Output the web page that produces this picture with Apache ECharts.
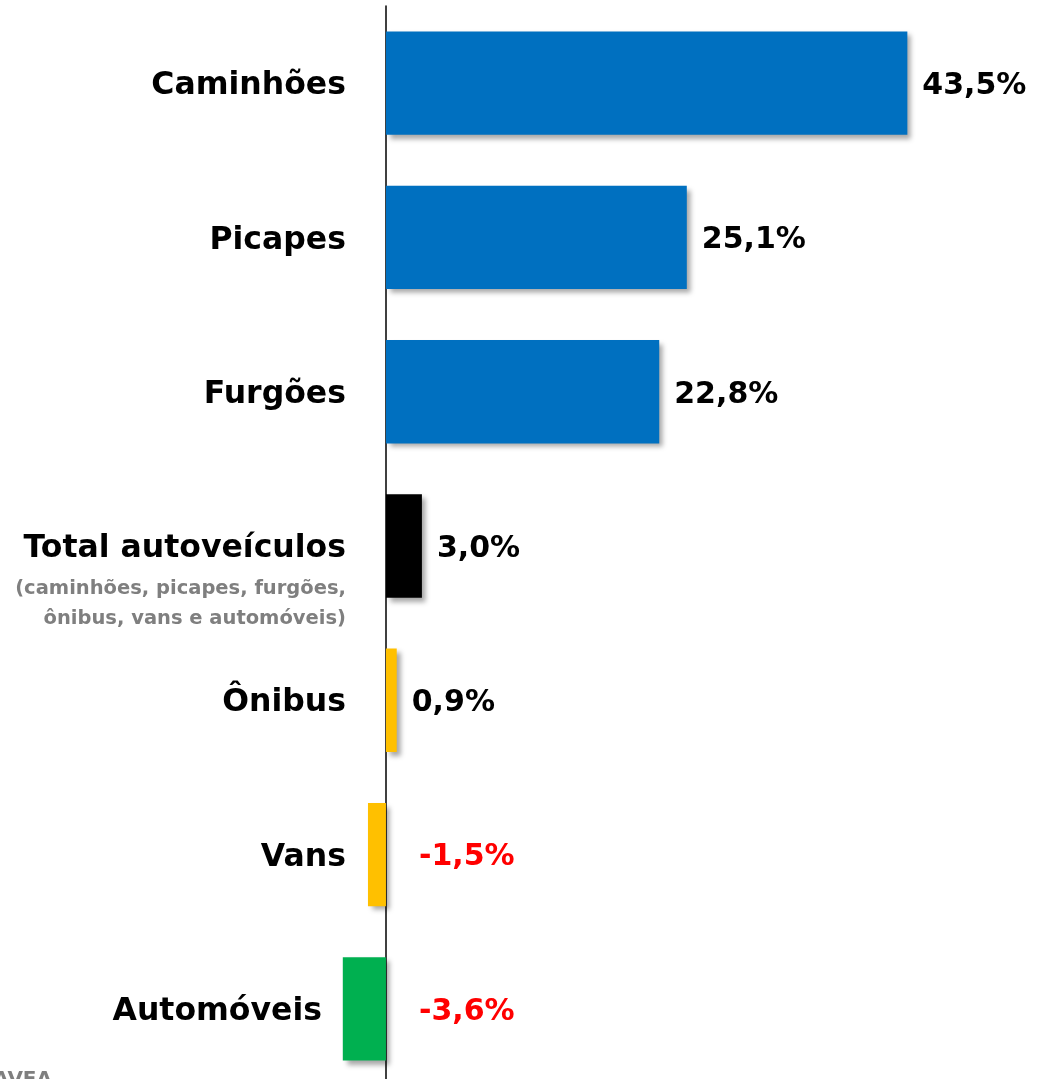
<!DOCTYPE html>
<html><head><meta charset="utf-8">
<script src="https://cdn.jsdelivr.net/npm/echarts@6/dist/echarts.min.js"></script>
<style>html,body{margin:0;padding:0;background:#fff}#c{width:1038px;height:1079px}</style>
</head><body><div id="c"></div>
<script>
const categories = ['Caminhões','Picapes','Furgões','Total autoveículos','Ônibus','Vans','Automóveis'];
const values = [43.5, 25.1, 22.8, 3.0, 0.9, -1.5, -3.6];
const barColors = ['#0070C0','#0070C0','#0070C0','#000000','#FFC000','#FFC000','#00B050'];
const totalNote = ['(caminhões, picapes, furgões,','ônibus, vans e automóveis)'];
const sourceText = 'Fonte: ANFAVEA';

const FONT = '"DejaVu Sans", sans-serif';
const chart = echarts.init(document.getElementById('c'), null, {renderer:'canvas'});
chart.setOption({
  animation:false,
  backgroundColor:'#fff',
  grid:{left:0,right:0,top:6,height:1080,containLabel:false,outerBoundsMode:'none'},
  xAxis:{type:'value',min:-32.2,max:54.4,show:false,splitLine:{show:false}},
  yAxis:{
    type:'category',data:categories,inverse:true,
    axisLine:{show:true,onZero:true,lineStyle:{color:'#000',width:1.5}},
    axisTick:{show:false},
    axisLabel:{show:false}
  },
  series:[{
    type:'bar',
    barCategoryGap:'33%',
    data:values.map(function(v,i){
      return {
        value:v,
        itemStyle:{color:barColors[i]},
        label:{
          show:true,position:'right',distance:v<0?33:15,
          color:v<0?'#FF0000':'#000000'
        }
      };
    }),
    itemStyle:{shadowBlur:5,shadowOffsetX:4,shadowOffsetY:4,shadowColor:'rgba(0,0,0,0.35)'},
    label:{
      fontFamily:FONT,fontWeight:'bold',fontSize:30,offset:[0,3],
      formatter:function(p){return p.value.toFixed(1).replace('.',',')+'%';}
    }
  },{
    type:'scatter',
    symbolSize:0,
    silent:true,
    z:5,
    itemStyle:{opacity:1},
    data:categories.map(function(c){return [0,c];}),
    label:{
      show:true,position:'left',distance:40,offset:[0,3],opacity:1,
      formatter:function(p){
        const v=p.data[1];
        if(v==='Total autoveículos'){
          return '{pad|}\n{main|'+v+'}\n{sub|'+totalNote[0]+'}\n{sub|'+totalNote[1]+'}';
        }
        if(v==='Automóveis') return '{main|'+v+'}{gap|}';
        return '{main|'+v+'}';
      },
      rich:{
        main:{fontFamily:FONT,fontWeight:'bold',fontSize:31.5,color:'#000',lineHeight:50,align:'right'},
        sub:{fontFamily:FONT,fontWeight:'bold',fontSize:19.5,color:'#7F7F7F',lineHeight:30,align:'right'},
        pad:{lineHeight:60,fontSize:10},
        gap:{width:24}
      }
    }
  }],
  graphic:[{
    type:'text',x:52,y:1070,
    style:{text:sourceText,fontFamily:FONT,fontWeight:'bold',fontSize:20,fill:'#7F7F7F',align:'right',verticalAlign:'top'}
  }]
});
</script></body></html>
